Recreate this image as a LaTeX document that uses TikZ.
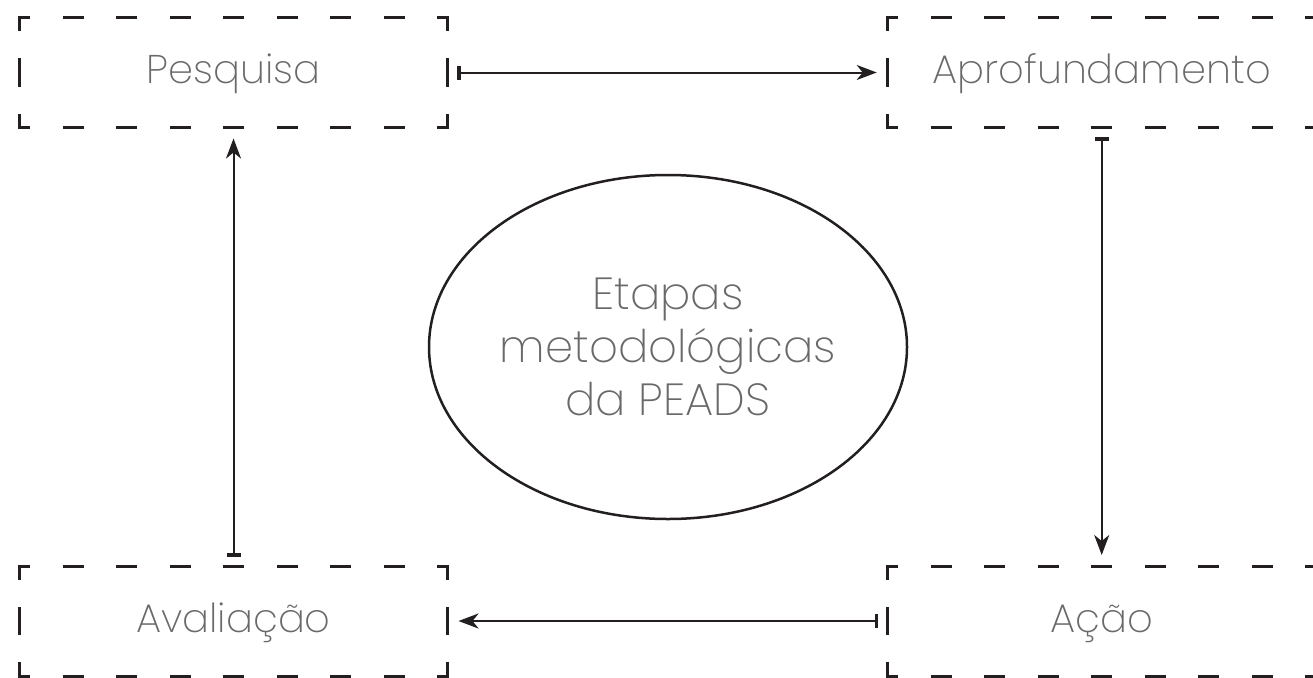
\documentclass[tikz,border=0pt]{standalone}
\usepackage{fontspec}
\IfFontExistsTF{Poppins ExtraLight}{\setmainfont{Poppins ExtraLight}}{\IfFontExistsTF{Poppins Light}{\setmainfont{Poppins Light}}{\setmainfont{Poppins}}}
\usetikzlibrary{arrows.meta,shapes.geometric}
\definecolor{txt}{RGB}{105,105,105}
\definecolor{ink}{RGB}{35,31,32}
\begin{document}
\begin{tikzpicture}[x=1pt,y=-1pt,
  stage/.style={minimum width=428pt,minimum height=110pt,inner sep=0pt,outer sep=0pt,
    text=txt,font=\fontsize{40pt}{48pt}\selectfont,text height=22pt,text depth=0pt},
  hside/.style={draw=ink,line width=3pt,line cap=rect,dash pattern=on 18pt off 35.5pt,dash phase=9pt},
  vside/.style={draw=ink,line width=3pt,line cap=rect,dash pattern=on 25pt off 30pt,dash phase=12.5pt},
  flow/.style={draw=ink,line width=2pt,
    {Rectangle[width=14pt,length=3.5pt]}-{Stealth[length=20pt,width=15pt,inset=6pt]},
    shorten <=9.5pt,shorten >=11pt},
  centre/.style={ellipse,draw=ink,line width=2.5pt,minimum width=478pt,minimum height=344pt,
    inner sep=0pt,outer sep=0pt,text=txt,align=center,font=\fontsize{45pt}{53pt}\selectfont}]
\useasboundingbox (0,0) rectangle (1313,677);
\node[stage] (pesq) at (233.5,72.5) {Pesquisa};
\node[stage] (aprof) at (1101.7,72.5) {Aprofundamento};
\node[stage] (aval) at (233.5,621) {Avaliação};
\node[stage] (acao) at (1101.7,621) {Ação};
\node[centre] (etapas) at (668,347) {Etapas\\metodológicas\\da PEADS};
\foreach \n in {pesq,aprof,aval,acao}{
  \draw[hside] (\n.north west) -- (\n.north east);
  \draw[hside] (\n.south west) -- (\n.south east);
  \draw[vside] (\n.north west) -- (\n.south west);
  \draw[vside] (\n.north east) -- (\n.south east);
}
\draw[flow] (pesq.east) -- (aprof.west);
\draw[flow] (aprof.south) -- (acao.north);
\draw[flow] (acao.west) -- (aval.east);
\draw[flow] (aval.north) -- (pesq.south);
\end{tikzpicture}
\end{document}
